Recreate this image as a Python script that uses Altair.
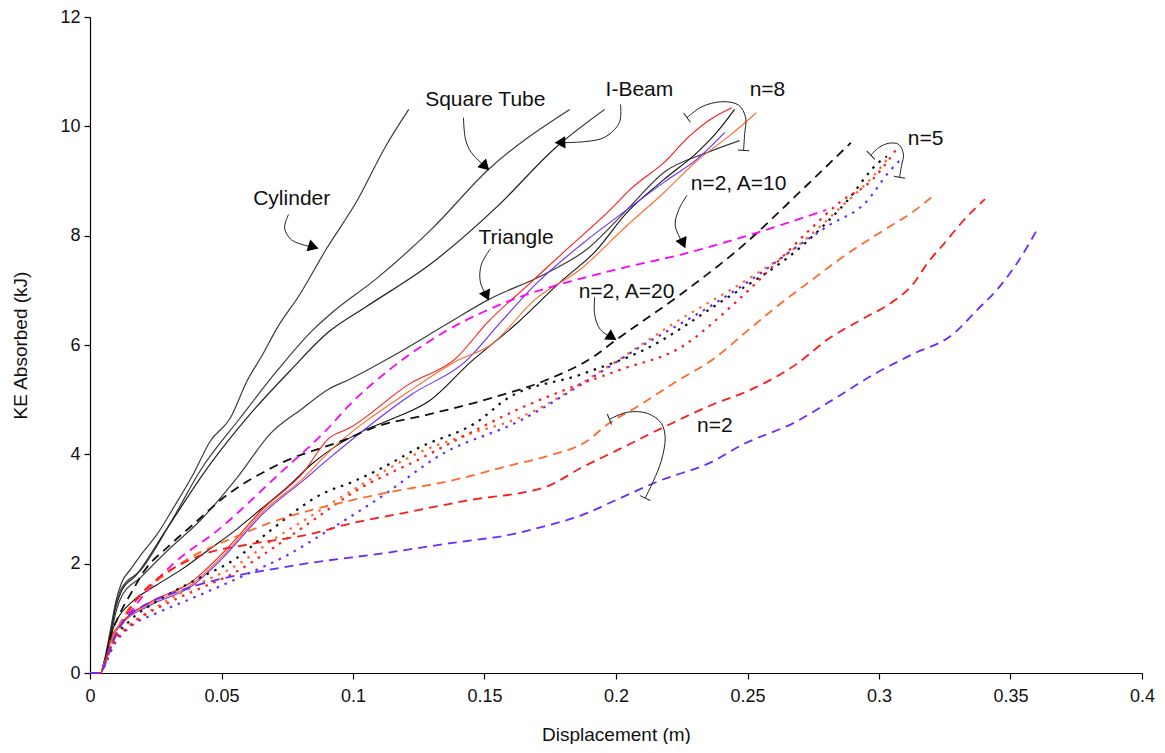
import math
import altair as alt
import pandas as pd

# ---------------- data ----------------
cyl_x = [0, 0.004, 0.006, 0.008, 0.0098, 0.012, 0.0155, 0.02, 0.0257, 0.0317, 0.0393, 0.0457, 0.0533, 0.0597, 0.0657, 0.071, 0.0797, 0.0899, 0.1012, 0.1126, 0.1212]
cyl_y = [0, 0, 0.35, 0.85, 1.3, 1.65, 1.9, 2.2, 2.55, 3.02, 3.64, 4.24, 4.66, 5.34, 5.83, 6.3, 6.92, 7.76, 8.61, 9.65, 10.31]

sq_x = [0, 0.004, 0.006, 0.008, 0.0098, 0.012, 0.0193, 0.0317, 0.0419, 0.057, 0.071, 0.0842, 0.0922, 0.1088, 0.1299, 0.1515, 0.1824]
sq_y = [0, 0, 0.3, 0.8, 1.25, 1.55, 1.88, 2.84, 3.7, 4.66, 5.52, 6.25, 6.6, 7.21, 8.12, 9.21, 10.31]

ib_x = [0, 0.004, 0.006, 0.008, 0.0098, 0.012, 0.0174, 0.0287, 0.0457, 0.0608, 0.0759, 0.091, 0.105, 0.13, 0.1552, 0.1768, 0.1957]
ib_y = [0, 0, 0.3, 0.75, 1.2, 1.5, 1.78, 2.6, 3.82, 4.73, 5.52, 6.25, 6.7, 7.5, 8.55, 9.6, 10.31]

tri_x = [0, 0.004, 0.006, 0.008, 0.0098, 0.012, 0.0193, 0.0295, 0.0419, 0.057, 0.0684, 0.0808, 0.091, 0.0986, 0.1163, 0.1352, 0.1515, 0.173, 0.1892, 0.2043, 0.2183, 0.2346, 0.247]
tri_y = [0, 0, 0.28, 0.7, 1.1, 1.4, 1.75, 2.24, 2.79, 3.64, 4.37, 4.84, 5.2, 5.37, 5.83, 6.37, 6.83, 7.3, 7.76, 8.48, 9.16, 9.52, 9.74]

n8k_x = [0, 0.004, 0.006, 0.008, 0.0106, 0.016, 0.025, 0.035, 0.045, 0.055, 0.065, 0.075, 0.085, 0.0935, 0.1035, 0.115, 0.1288, 0.145, 0.1617, 0.179, 0.1919, 0.2043, 0.2183, 0.2308, 0.2383, 0.2451]
n8k_y = [0, 0, 0.28, 0.7, 1.0, 1.3, 1.6, 1.9, 2.25, 2.6, 3.0, 3.4, 3.85, 4.15, 4.42, 4.65, 4.97, 5.7, 6.37, 7.16, 7.7, 8.43, 9.03, 9.52, 9.89, 10.31]

n8p_x = [0, 0.004, 0.006, 0.008, 0.0117, 0.023, 0.0381, 0.0506, 0.0657, 0.0808, 0.091, 0.1224, 0.1428, 0.1564, 0.1692, 0.1866, 0.2043, 0.2183, 0.2308, 0.2414]
n8p_y = [0, 0, 0.2, 0.6, 0.87, 1.24, 1.57, 2.11, 2.91, 3.51, 3.93, 5.1, 5.7, 6.43, 7.1, 7.83, 8.48, 8.98, 9.4, 9.89]

n8r_x = [0, 0.004, 0.006, 0.008, 0.0117, 0.023, 0.0381, 0.0506, 0.0657, 0.0808, 0.091, 0.0986, 0.1212, 0.139, 0.1515, 0.1666, 0.179, 0.1994, 0.2055, 0.2183, 0.2281, 0.2357, 0.244]
n8r_y = [0, 0, 0.25, 0.65, 0.9, 1.3, 1.65, 2.2, 3.0, 3.65, 4.3, 4.48, 5.28, 5.75, 6.43, 7.1, 7.65, 8.55, 8.85, 9.34, 9.83, 10.12, 10.34]

n8o_x = [0, 0.004, 0.006, 0.008, 0.0117, 0.023, 0.0381, 0.0506, 0.0657, 0.0808, 0.091, 0.1212, 0.139, 0.1526, 0.1692, 0.1866, 0.2043, 0.2183, 0.2308, 0.2432, 0.2534]
n8o_y = [0, 0, 0.25, 0.6, 0.88, 1.27, 1.6, 2.15, 2.95, 3.55, 4.05, 5.15, 5.7, 6.01, 6.83, 7.39, 8.19, 8.79, 9.37, 9.83, 10.25]

n5k_x = [0, 0.004, 0.006, 0.009, 0.015, 0.025, 0.04, 0.056, 0.0684, 0.0884, 0.1, 0.111, 0.125, 0.1477, 0.158, 0.1866, 0.2119, 0.2383, 0.2723, 0.2874, 0.2999, 0.303]
n5k_y = [0, 0, 0.25, 0.6, 0.95, 1.3, 1.7, 2.11, 2.6, 3.28, 3.5, 3.75, 4.12, 4.61, 5.0, 5.46, 5.94, 6.74, 7.88, 8.61, 9.34, 9.45]

n5o_x = [0, 0.004, 0.006, 0.009, 0.015, 0.025, 0.04, 0.055, 0.07, 0.085, 0.1, 0.126, 0.1428, 0.1628, 0.1968, 0.2221, 0.25, 0.27, 0.285, 0.298, 0.304]
n5o_y = [0, 0, 0.22, 0.58, 0.88, 1.2, 1.6, 1.95, 2.45, 2.9, 3.35, 4.05, 4.35, 4.66, 5.6, 6.4, 7.2, 7.85, 8.5, 9.1, 9.45]

n5p_x = [0, 0.004, 0.006, 0.009, 0.0155, 0.0257, 0.038, 0.057, 0.0748, 0.092, 0.11, 0.1337, 0.1628, 0.1941, 0.207, 0.2372, 0.2546, 0.2674, 0.281, 0.295, 0.3037, 0.309]
n5p_y = [0, 0, 0.18, 0.5, 0.85, 1.1, 1.35, 1.75, 2.15, 2.65, 3.2, 4.0, 4.6, 5.5, 5.9, 6.75, 7.3, 7.75, 8.19, 8.61, 9.16, 9.43]

n5r_x = [0, 0.004, 0.006, 0.009, 0.015, 0.0317, 0.043, 0.0544, 0.07, 0.085, 0.1, 0.126, 0.1428, 0.164, 0.179, 0.2017, 0.2244, 0.2448, 0.262, 0.2735, 0.2848, 0.2976, 0.3063]
n5r_y = [0, 0, 0.2, 0.55, 0.85, 1.33, 1.57, 1.82, 2.3, 2.8, 3.3, 3.93, 4.35, 4.85, 5.15, 5.55, 5.95, 6.75, 7.55, 8.1, 8.6, 9.03, 9.56]

a20_x = [0, 0.004, 0.006, 0.008, 0.011, 0.0155, 0.0204, 0.0306, 0.04, 0.0506, 0.071, 0.0986, 0.1073, 0.1288, 0.1541, 0.173, 0.1919, 0.1994, 0.2244, 0.2497, 0.2686, 0.2893]
a20_y = [0, 0, 0.3, 0.7, 1.05, 1.45, 1.85, 2.35, 2.75, 3.2, 3.8, 4.3, 4.48, 4.73, 5.05, 5.35, 5.8, 6.07, 6.92, 7.88, 8.74, 9.7]

a10_x = [0, 0.004, 0.006, 0.009, 0.013, 0.02, 0.0317, 0.0483, 0.071, 0.091, 0.0986, 0.1126, 0.1352, 0.1602, 0.1855, 0.2017, 0.2244, 0.2546, 0.2799]
a10_y = [0, 0, 0.25, 0.65, 0.95, 1.4, 2.0, 2.6, 3.6, 4.5, 4.9, 5.5, 6.25, 6.82, 7.2, 7.4, 7.65, 8.07, 8.47]

n2o_x = [0, 0.004, 0.006, 0.009, 0.013, 0.02, 0.03, 0.0381, 0.0533, 0.071, 0.0986, 0.111, 0.1364, 0.1617, 0.1741, 0.1892, 0.1968, 0.207, 0.2232, 0.2372, 0.2497, 0.2621, 0.275, 0.2874, 0.3025, 0.3127, 0.3214]
n2o_y = [0, 0, 0.25, 0.65, 1.05, 1.45, 1.85, 2.11, 2.45, 2.79, 3.15, 3.28, 3.51, 3.82, 3.97, 4.25, 4.55, 4.84, 5.34, 5.75, 6.25, 6.74, 7.21, 7.65, 8.12, 8.43, 8.76]

n2r_x = [0, 0.004, 0.006, 0.009, 0.012, 0.017, 0.025, 0.035, 0.045, 0.06, 0.0846, 0.0986, 0.1175, 0.1428, 0.1741, 0.1866, 0.1994, 0.2183, 0.2372, 0.2497, 0.2686, 0.281, 0.2939, 0.3052, 0.3127, 0.3188, 0.3252, 0.3316, 0.3403]
n2r_y = [0, 0, 0.25, 0.6, 0.9, 1.3, 1.7, 2.0, 2.2, 2.35, 2.55, 2.73, 2.91, 3.15, 3.42, 3.75, 4.05, 4.5, 4.92, 5.15, 5.65, 6.12, 6.48, 6.79, 7.1, 7.52, 7.88, 8.25, 8.67]

n2p_x = [0, 0.004, 0.006, 0.009, 0.0128, 0.0219, 0.0344, 0.0506, 0.067, 0.0846, 0.11, 0.1364, 0.1617, 0.1741, 0.1866, 0.1994, 0.2157, 0.2372, 0.247, 0.2686, 0.2825, 0.2976, 0.3127, 0.3279, 0.3377, 0.3452, 0.3528, 0.36]
n2p_y = [0, 0, 0.2, 0.6, 0.95, 1.27, 1.51, 1.73, 1.88, 2.02, 2.18, 2.37, 2.55, 2.7, 2.88, 3.15, 3.5, 3.88, 4.15, 4.6, 5.0, 5.45, 5.83, 6.19, 6.66, 7.03, 7.52, 8.1]

# annotation labels (data coordinates)
label_text = ["Cylinder", "Square Tube", "I-Beam", "n=8", "n=2, A=10", "Triangle", "n=5", "n=2, A=20", "n=2"]
label_x = [0.0767, 0.1503, 0.2089, 0.2576, 0.2466, 0.162, 0.3177, 0.204, 0.2376]
label_y = [8.67, 10.49, 10.67, 10.67, 8.94, 7.96, 9.76, 6.97, 4.52]

# annotation arrows (data coordinates); head = filled triangle, bars = end caps
arr_cyl_x = [0.0755, 0.0740, 0.0767, 0.0865]
arr_cyl_y = [8.39, 8.14, 7.92, 7.77]
arr_sq_x = [0.142, 0.1428, 0.145, 0.1515]
arr_sq_y = [10.16, 9.76, 9.52, 9.21]
arr_ib_x = [0.2017, 0.2013, 0.1957, 0.1881, 0.1771]
arr_ib_y = [10.40, 10.07, 9.80, 9.72, 9.70]
arr_tri_x = [0.1522, 0.1488, 0.1484, 0.1515]
arr_tri_y = [7.76, 7.47, 7.16, 6.83]
arr_a10_x = [0.227, 0.224, 0.2225, 0.2262]
arr_a10_y = [8.74, 8.49, 8.19, 7.79]
arr_a20_x = [0.1919, 0.1919, 0.1941, 0.1998]
arr_a20_y = [6.88, 6.55, 6.28, 6.10]
loop_n8_x = [0.227, 0.2327, 0.2402, 0.2466, 0.2493, 0.2489, 0.2485]
loop_n8_y = [10.16, 10.36, 10.45, 10.39, 10.16, 9.85, 9.56]
loop_n5_x = [0.2969, 0.2999, 0.3037, 0.3075, 0.3093, 0.3086, 0.3078]
loop_n5_y = [9.47, 9.61, 9.69, 9.67, 9.49, 9.29, 9.07]
loop_n2_x = [0.1975, 0.2043, 0.2119, 0.2172, 0.2187, 0.2172, 0.2142, 0.2111]
loop_n2_y = [4.64, 4.77, 4.75, 4.57, 4.30, 3.88, 3.51, 3.20]

# ---------------- build tables ----------------
W, H = 1052, 656
XMAX, YMAX = 0.4, 12.0
SX, SY = W / XMAX, H / YMAX

series = [
    ("Cylinder", cyl_x, cyl_y, "solid"),
    ("Square Tube", sq_x, sq_y, "solid"),
    ("I-Beam", ib_x, ib_y, "solid"),
    ("Triangle", tri_x, tri_y, "solid"),
    ("n=8 black", n8k_x, n8k_y, "thin"),
    ("n=8 purple", n8p_x, n8p_y, "thin"),
    ("n=8 orange", n8o_x, n8o_y, "thin"),
    ("n=8 red", n8r_x, n8r_y, "thin"),
    ("n=5 black", n5k_x, n5k_y, "dot"),
    ("n=5 orange", n5o_x, n5o_y, "dot"),
    ("n=5 purple", n5p_x, n5p_y, "dot"),
    ("n=5 red", n5r_x, n5r_y, "dot"),
    ("n=2 A=20", a20_x, a20_y, "dash"),
    ("n=2 A=10", a10_x, a10_y, "dash"),
    ("n=2 orange", n2o_x, n2o_y, "dash"),
    ("n=2 red", n2r_x, n2r_y, "dash"),
    ("n=2 purple", n2p_x, n2p_y, "dash"),
]
color_of = {
    "Cylinder": "#3c3c3c", "Square Tube": "#3c3c3c", "I-Beam": "#222222", "Triangle": "#3c3c3c",
    "n=8 black": "#111111", "n=8 purple": "#6a2bff", "n=8 orange": "#ff6a2a", "n=8 red": "#ff1a1a",
    "n=5 black": "#111111", "n=5 orange": "#ff6a2a", "n=5 purple": "#6a2bff", "n=5 red": "#ff1a1a",
    "n=2 A=20": "#111111", "n=2 A=10": "#ff00ff", "n=2 orange": "#ff6a2a", "n=2 red": "#ff1a1a",
    "n=2 purple": "#6a2bff",
}
names = [s[0] for s in series]
colors = [color_of[n] for n in names]

rows = []
for name, xs, ys, style in series:
    for i, (a, b) in enumerate(zip(xs, ys)):
        rows.append({"series": name, "style": style, "i": i, "x": a, "y": b})
df = pd.DataFrame(rows)

xscale = alt.Scale(domain=[0, XMAX], nice=False, zero=False)
yscale = alt.Scale(domain=[0, YMAX], nice=False, zero=False)
xaxis = alt.Axis(values=[0, 0.05, 0.1, 0.15, 0.2, 0.25, 0.3, 0.35, 0.4], format="~g",
                 title="Displacement (m)", labelFlush=False, tickSize=6,
                 labelPadding=8, titlePadding=20)
yaxis = alt.Axis(values=[0, 2, 4, 6, 8, 10, 12], title="KE Absorbed (kJ)",
                 labelFlush=False, tickSize=6, labelPadding=4, titlePadding=29)


def X():
    return alt.X("x:Q", scale=xscale, axis=xaxis)


def Y():
    return alt.Y("y:Q", scale=yscale, axis=yaxis)


color = alt.Color("series:N", scale=alt.Scale(domain=names, range=colors), legend=None)

base = alt.Chart(df)
solid = base.transform_filter(alt.datum.style == "solid").mark_line(
    strokeWidth=1.2, interpolate="monotone").encode(X(), Y(), color, detail="series:N", order="i:Q")
thin = base.transform_filter(alt.datum.style == "thin").mark_line(
    strokeWidth=1.1, interpolate="monotone").encode(X(), Y(), color, detail="series:N", order="i:Q")
dot = base.transform_filter(alt.datum.style == "dot").mark_line(
    strokeWidth=2.2, strokeDash=[2.5, 6], interpolate="monotone").encode(X(), Y(), color, detail="series:N", order="i:Q")
dash = base.transform_filter(alt.datum.style == "dash").mark_line(
    strokeWidth=1.8, strokeDash=[9, 6], interpolate="monotone").encode(X(), Y(), color, detail="series:N", order="i:Q")

# annotation paths
paths = [
    ("cyl", arr_cyl_x, arr_cyl_y, "head"),
    ("sq", arr_sq_x, arr_sq_y, "head"),
    ("ib", arr_ib_x, arr_ib_y, "head"),
    ("tri", arr_tri_x, arr_tri_y, "head"),
    ("a10", arr_a10_x, arr_a10_y, "head"),
    ("a20", arr_a20_x, arr_a20_y, "head"),
    ("n8", loop_n8_x, loop_n8_y, "bars"),
    ("n5", loop_n5_x, loop_n5_y, "bars"),
    ("n2", loop_n2_x, loop_n2_y, "bars"),
]


def direction(x1, y1, x2, y2):
    dx = (x2 - x1) * SX
    dy = -(y2 - y1) * SY
    ln = math.hypot(dx, dy) or 1.0
    ang = math.degrees(math.atan2(dx, -dy)) % 360
    return dx / ln, dy / ln, ang


prow, heads, bars = [], [], []
for pid, xs, ys, kind in paths:
    for i, (a, b) in enumerate(zip(xs, ys)):
        prow.append({"path": pid, "i": i, "x": a, "y": b})
    ux, uy, ang = direction(xs[-2], ys[-2], xs[-1], ys[-1])
    if kind == "head":
        heads.append({"x": xs[-1] - ux * 6 / SX, "y": ys[-1] + uy * 6 / SY, "ang": ang})
    else:
        bars.append({"x": xs[-1], "y": ys[-1], "ang": ang})
        ux0, uy0, ang0 = direction(xs[1], ys[1], xs[0], ys[0])
        bars.append({"x": xs[0], "y": ys[0], "ang": ang0})

pdf = pd.DataFrame(prow)
arrows = alt.Chart(pdf).mark_line(color="#222222", strokeWidth=1, interpolate="catmull-rom").encode(
    X(), Y(), detail="path:N", order="i:Q")
headmk = alt.Chart(pd.DataFrame(heads)).mark_point(
    shape="triangle", filled=True, color="#000000", size=150, opacity=1).encode(
    X(), Y(), angle=alt.Angle("ang:Q", scale=None))
barmk = alt.Chart(pd.DataFrame(bars)).mark_point(
    shape="stroke", filled=False, color="#222222", size=130, strokeWidth=1, opacity=1).encode(
    X(), Y(), angle=alt.Angle("ang:Q", scale=None))

ldf = pd.DataFrame({"t": label_text, "x": label_x, "y": label_y})
labels = alt.Chart(ldf).mark_text(fontSize=21, font="Liberation Sans", color="#111111",
                                  align="center", baseline="middle").encode(X(), Y(), text="t:N")

chart = alt.layer(solid, thin, dot, dash, arrows, headmk, barmk, labels).properties(
    width=W, height=H,
    autosize=alt.AutoSizeParams(type="none"),
    padding={"left": 82, "top": 9, "right": 15, "bottom": 71},
    background="#ffffff",
).configure_view(stroke=None).configure_axis(
    grid=False, domainColor="#000000", tickColor="#000000", domainWidth=1.2, tickWidth=1.2,
    labelColor="#111111", titleColor="#111111", labelFont="Liberation Sans", titleFont="Liberation Sans",
    labelFontSize=18, titleFontSize=19, titleFontWeight="normal",
)

chart.save("out.html", embed_options={"renderer": "svg", "actions": False})
